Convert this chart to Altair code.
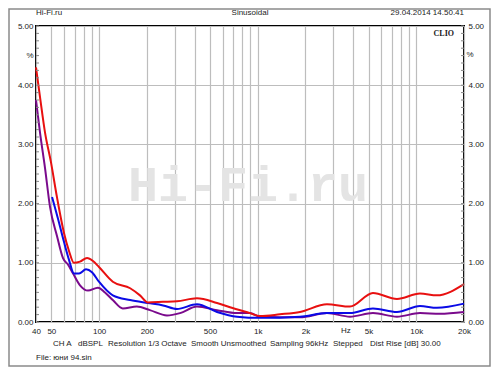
import altair as alt
import pandas as pd

# ---- data ----
freq_red = [40, 42.4, 45.6, 49.7, 54.3, 60.1, 64.6, 69.4, 75.8, 83.9, 91.5, 99.8, 122, 157, 181, 203,
            253, 310, 414, 554, 669, 894, 1034, 1382, 1848, 2735, 3820, 5333, 7557, 10552, 13503, 20000]
red = [4.30, 3.80, 3.20, 2.70, 2.10, 1.50, 1.20, 1.00, 1.02, 1.08, 1.03, 0.93, 0.68, 0.57, 0.45, 0.33,
       0.34, 0.35, 0.40, 0.32, 0.25, 0.15, 0.10, 0.13, 0.17, 0.30, 0.26, 0.49, 0.39, 0.48, 0.45, 0.64]

freq_blue = [50.5, 55.0, 60.1, 64.6, 69.4, 74.7, 82.7, 90.2, 99.8, 122, 157, 203, 253, 310, 414, 554,
             740, 1034, 1848, 2735, 3820, 5333, 7557, 10552, 13503, 20000]
blue = [2.11, 1.75, 1.35, 1.05, 0.82, 0.82, 0.89, 0.84, 0.68, 0.45, 0.37, 0.32, 0.28, 0.22, 0.30, 0.17,
        0.09, 0.07, 0.09, 0.15, 0.15, 0.23, 0.17, 0.27, 0.24, 0.31]

freq_purple = [40, 42.4, 45.6, 49.0, 54.3, 59.2, 63.6, 68.5, 75.8, 85.1, 98.4, 108.9, 122, 141, 173, 209,
               268, 324, 414, 554, 740, 894, 1034, 1848, 2735, 3820, 5333, 7557, 10552, 14105, 20000]
purple = [3.75, 3.20, 2.60, 1.95, 1.45, 1.08, 0.97, 0.82, 0.62, 0.53, 0.58, 0.50, 0.37, 0.23, 0.26, 0.20,
          0.11, 0.15, 0.26, 0.20, 0.15, 0.15, 0.09, 0.08, 0.15, 0.09, 0.15, 0.09, 0.15, 0.14, 0.17]

x_grid_values = [40, 50, 60, 70, 80, 90, 100, 200, 300, 400, 500, 600, 700, 800, 900,
                 1000, 2000, 3000, 4000, 5000, 6000, 7000, 8000, 9000, 10000, 20000]
x_label_values = [40, 50, 100, 200, 500, 1000, 2000, 5000, 10000, 20000]
y_values = [0, 1, 2, 3, 4, 5]
minor_ticks = [i * 0.125 for i in range(41)]

footer_items = ["CH A", "dBSPL", "Resolution 1/3 Octave", "Smooth Unsmoothed",
                "Sampling 96kHz", "Stepped", "Dist Rise [dB] 30.00"]
footer_x = [17, 42, 72, 155, 234, 297, 334]

W, H = 428, 296
FONT = "Liberation Sans"

df = pd.concat([
    pd.DataFrame({"f": freq_purple, "v": purple, "s": "purple"}),
    pd.DataFrame({"f": freq_blue, "v": blue, "s": "blue"}),
    pd.DataFrame({"f": freq_red, "v": red, "s": "red"}),
])

xscale = alt.Scale(type="log", domain=[40, 20000], nice=False)
yscale = alt.Scale(domain=[0, 5], nice=False)

label_expr = ("indexof(" + str(x_label_values) + ", datum.value) >= 0 ? "
              "(datum.value >= 1000 ? (datum.value / 1000) + 'k' : datum.value + '') : ''")

x_axis = alt.Axis(values=x_grid_values, labelExpr=label_expr, grid=True, gridColor="#bdbdbd",
                  gridWidth=1.2, domain=False, ticks=False, labelPadding=5, labelFontSize=8,
                  labelFont=FONT, labelColor="#222", title=None, labelFlush=False, labelOverlap=False)
x_enc = alt.X("f:Q", scale=xscale, axis=x_axis)

colors = {"purple": "#7a0a8c", "blue": "#0a0ae6", "red": "#e81010"}


def line(name, axis):
    return alt.Chart(df).transform_filter(alt.datum.s == name).mark_line(
        color=colors[name], strokeWidth=2, interpolate="monotone"
    ).encode(x=x_enc, y=alt.Y("v:Q", scale=yscale, axis=axis))


left_axis = alt.Axis(values=y_values, format=".2f", grid=True, gridColor="#bdbdbd", gridWidth=1.2,
                     domain=False, ticks=False, labelPadding=3, labelFontSize=8, labelFont=FONT,
                     labelColor="#222", title=None, orient="left")
right_axis = alt.Axis(values=y_values, format=".2f", grid=False, domain=False, ticks=False,
                      labelPadding=4, labelFontSize=8, labelFont=FONT, labelColor="#222",
                      title=None, orient="right")

one = pd.DataFrame({"a": [0]})

frame = alt.Chart(one).mark_rect(fill=None, stroke="#8a8a8a", strokeWidth=1.5).encode(
    x=alt.value(-27), x2=alt.value(454), y=alt.value(-17), y2=alt.value(340))

watermark = alt.Chart(one).mark_text(
    text="Hi-Fi.ru", font="Liberation Mono", fontWeight="bold", fontSize=50,
    color="#e4e4e4", align="center", baseline="middle"
).encode(x=alt.value(212), y=alt.value(160))

ticks_df = pd.DataFrame({"t": minor_ticks})
tick_left = alt.Chart(ticks_df).mark_rule(color="#888", strokeWidth=1).encode(
    x=alt.value(0), x2=alt.value(3), y=alt.Y("t:Q", scale=yscale, axis=None))
tick_right = alt.Chart(ticks_df).mark_rule(color="#888", strokeWidth=1).encode(
    x=alt.value(W - 3), x2=alt.value(W), y=alt.Y("t:Q", scale=yscale, axis=None))


def txt(t, x, y, align="left", size=8, font=FONT, weight="normal"):
    return alt.Chart(one).mark_text(text=t, align=align, baseline="middle", fontSize=size,
                                    font=font, fontWeight=weight, color="#222").encode(
        x=alt.value(x), y=alt.value(y))


texts = [
    txt("Hi-Fi.ru", 0, -13),
    txt("Sinusoidal", 214, -13, align="center"),
    txt("29.04.2014 14.50.41", W, -13, align="right"),
    txt("CLIO", 418, 8, align="right", font="Liberation Serif", weight="bold"),
    txt("%", -6, 30, align="center"),
    txt("%", 434, 29, align="center"),
    txt("File: юни 94.sin", 0, 332),
]
for t, xx in zip(footer_items, footer_x):
    texts.append(txt(t, xx, 318))

hz = alt.Chart(pd.DataFrame({"f": [3600], "t": ["Hz"]})).mark_text(
    fontSize=8, font=FONT, color="#222", baseline="middle", align="center"
).encode(x=x_enc, y=alt.value(305), text="t:N")

chart = alt.layer(
    frame, watermark,
    line("purple", left_axis),
    line("blue", right_axis),
    line("red", None),
    tick_left, tick_right, hz, *texts
).resolve_axis(y="independent").properties(
    width=W, height=H,
    autosize=alt.AutoSizeParams(type="none"),
    padding={"left": 28, "top": 18, "right": 28, "bottom": 45},
    background="white",
).configure_view(stroke="black", strokeWidth=2)

chart.save("out.html", embed_options={"renderer": "svg", "actions": False})
